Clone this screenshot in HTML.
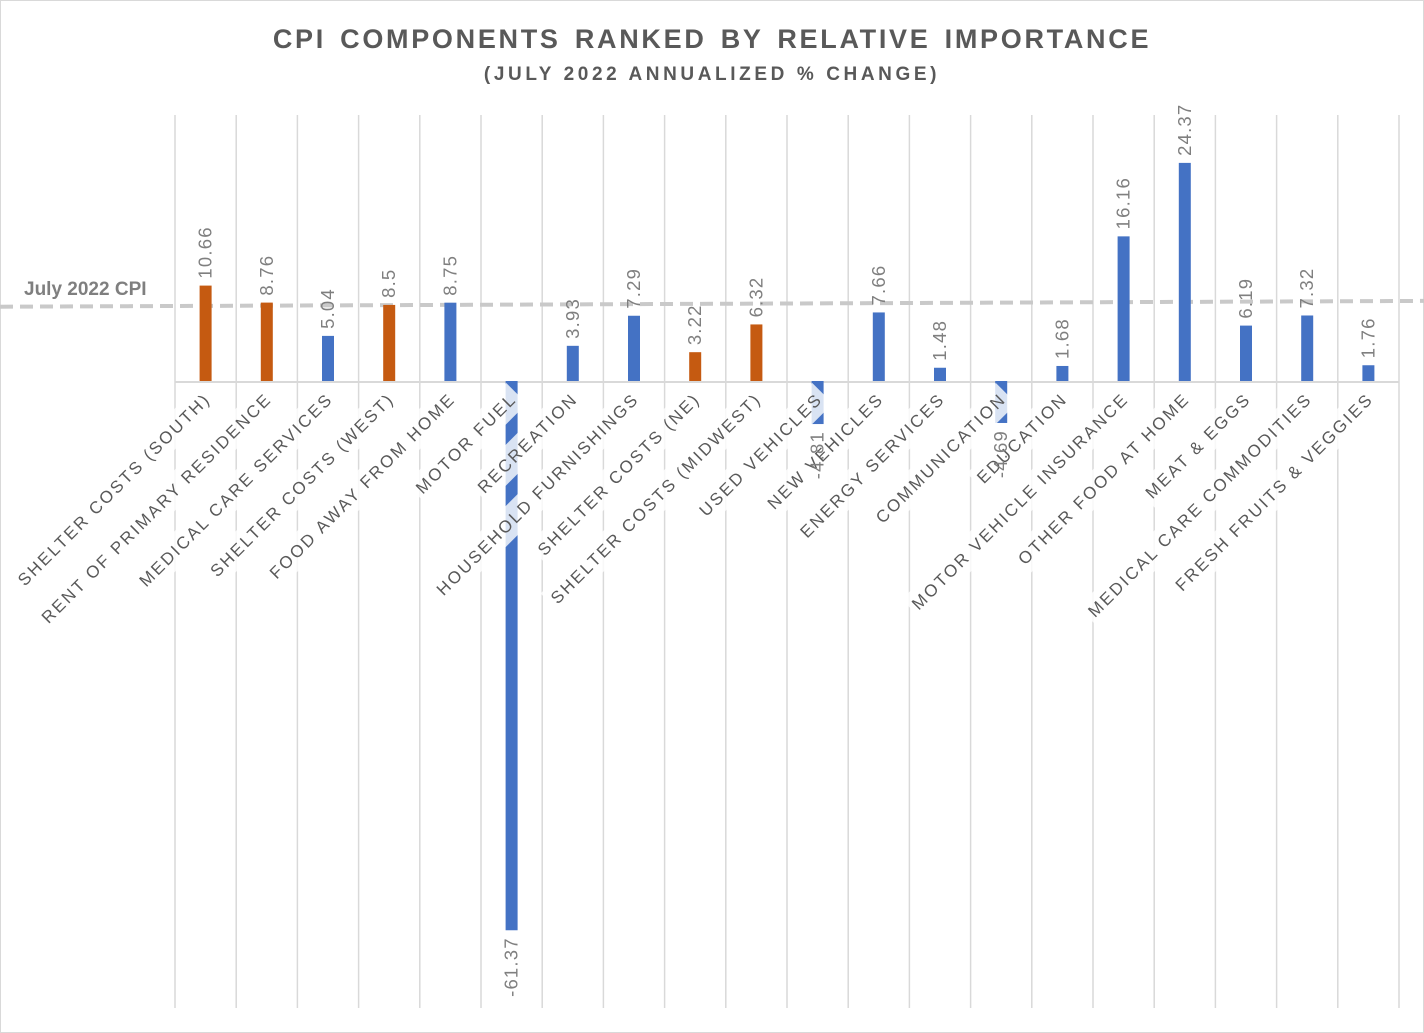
<!DOCTYPE html>
<html><head><meta charset="utf-8"><style>
html,body{margin:0;padding:0;background:#fff;}
svg{display:block;font-family:"Liberation Sans",sans-serif;}
</style></head><body>
<svg id="chart" width="1424" height="1033" viewBox="0 0 1424 1033" xmlns="http://www.w3.org/2000/svg">
<rect x="0.5" y="0.5" width="1423" height="1032" fill="#fff" stroke="#d9d9d9"/>
<text x="712" y="48" text-anchor="middle" font-size="27" font-weight="bold" fill="#595959" letter-spacing="2.7" word-spacing="4">CPI COMPONENTS RANKED BY RELATIVE IMPORTANCE</text>
<text x="712" y="80" text-anchor="middle" font-size="19" font-weight="bold" fill="#595959" letter-spacing="3.6">(JULY 2022 ANNUALIZED % CHANGE)</text>
<g id="grid"></g><g id="ref"></g><g id="bars"></g><g id="cats"></g><g id="vals"></g>
</svg>
<script>
const categories=["SHELTER COSTS (SOUTH)","RENT OF PRIMARY RESIDENCE","MEDICAL CARE SERVICES","SHELTER COSTS (WEST)","FOOD AWAY FROM HOME","MOTOR FUEL","RECREATION","HOUSEHOLD FURNISHINGS","SHELTER COSTS (NE)","SHELTER COSTS (MIDWEST)","USED VEHICLES","NEW VEHICLES","ENERGY SERVICES","COMMUNICATION","EDUCATION","MOTOR VEHICLE INSURANCE","OTHER FOOD AT HOME","MEAT & EGGS","MEDICAL CARE COMMODITIES","FRESH FRUITS & VEGGIES"];
const values=[10.66,8.76,5.04,8.5,8.75,-61.37,3.93,7.29,3.22,6.32,-4.81,7.66,1.48,-4.69,1.68,16.16,24.37,6.19,7.32,1.76];
const isShelter=[1,1,0,1,0,0,0,0,1,1,0,0,0,0,0,0,0,0,0,0];
const cpiStart=8.3, cpiEnd=8.95;
const NS="http://www.w3.org/2000/svg";
const x0=175,x1=1399,y0=381,scale=8.95;
const band=(x1-x0)/categories.length;
const xc=i=>x0+band*(i+0.5);
const y=v=>y0-v*scale;
function mk(tag,attrs,parent){const e=document.createElementNS(NS,tag);for(const k in attrs)e.setAttribute(k,attrs[k]);parent.appendChild(e);return e;}
const grid=document.getElementById('grid'),bars=document.getElementById('bars'),cats=document.getElementById('cats'),vals=document.getElementById('vals'),ref=document.getElementById('ref');
for(let i=0;i<=categories.length;i++){
  const l=mk('line',{x1:x0+band*i,x2:x0+band*i,y1:115,y2:1008,stroke:'#d9d9d9','stroke-width':1.5},grid);
  
  
}
const ax=mk('line',{x1:x0,x2:x1,y1:y0+1,y2:y0+1,stroke:'#d9d9d9','stroke-width':2},grid);


const cl=mk('line',{x1:0,x2:1424,y1:y(cpiStart),y2:y(cpiEnd),stroke:'#c9c9c9','stroke-width':4,'stroke-dasharray':'13,7'},ref);


const ct=mk('text',{x:24,y:295,'font-size':19,'font-weight':'bold',fill:'#7f7f7f'},ref);
ct.textContent='July 2022 CPI';


values.forEach((v,i)=>{
  const top=Math.min(y(v),y0),h=Math.abs(y(v)-y0);
  const r=mk('rect',{x:xc(i)-6,y:top,width:12,height:h,fill:isShelter[i]?'#C55A11':'#4472C4'},bars);
  
  
});
categories.forEach((c,i)=>{
  const g=mk('g',{transform:`translate(${xc(i)+6},400) rotate(-45)`},cats);
  
  
  const t=mk('text',{x:0,y:0,'text-anchor':'end','font-size':17,fill:'#595959','letter-spacing':2.3},g);
  t.textContent=c;
  const bb=t.getBBox();
  const bg=mk('rect',{x:bb.x-4,y:bb.y-5,width:bb.width+8,height:bb.height+10,fill:'#fff','fill-opacity':0.8},g);
  g.insertBefore(bg,t);
});
values.forEach((v,i)=>{
  const ty=v>=0?y(v)-7:y(v)+7;
  const t=mk('text',{transform:`translate(${xc(i)+6},${ty}) rotate(-90)`,'text-anchor':v>=0?'start':'end','font-size':18.5,fill:'#7f7f7f','letter-spacing':1.2},vals);
  t.textContent=String(v);
  
  
});
</script>
</body></html>
